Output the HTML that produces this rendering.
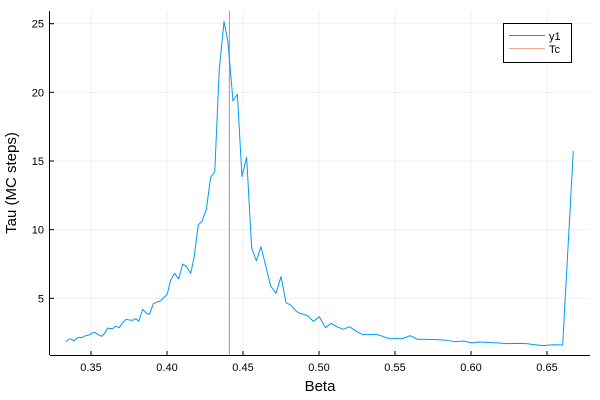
<!DOCTYPE html>
<html><head><meta charset="utf-8"><style>
html,body{margin:0;padding:0;background:#fff;}
svg{display:block;font-family:"Liberation Sans",sans-serif;}
</style></head><body>
<svg id="chart" width="600" height="400">
<g id="grid"></g>
<g id="axes"></g>
<g id="series"></g>
<text x="320" y="391" font-size="15" text-anchor="middle" fill="#000">Beta</text>
<text x="16" y="183" font-size="15" text-anchor="middle" fill="#000" transform="rotate(-90 16 183)">Tau (MC steps)</text>
<g>
<rect x="503.5" y="23.5" width="68" height="39" fill="#fff" stroke="#000" stroke-width="1"/>
<line x1="509" y1="35.5" x2="545" y2="35.5" stroke="#009af9" stroke-width="1"/>
<text x="549" y="40" font-size="11">y1</text>
<line x1="509" y1="48.5" x2="545" y2="48.5" stroke="#e26f46" stroke-opacity="0.6" stroke-width="1"/>
<text x="549" y="53" font-size="11">Tc</text>
</g>
</svg>
<script>
const betas = [0.3336,0.3355,0.3373,0.3388,0.3406,0.3423,0.3441,0.3458,0.3476,0.3493,0.3511,0.3529,0.3550,0.3570,0.3588,0.3610,0.3627,0.3645,0.3664,0.3686,0.3708,0.3730,0.3752,0.3774,0.3796,0.3814,0.3840,0.3864,0.3884,0.3910,0.3932,0.3954,0.3976,0.4002,0.4024,0.4050,0.4077,0.4103,0.4129,0.4156,0.4178,0.4206,0.4232,0.4259,0.4287,0.4314,0.4344,0.4375,0.4401,0.4434,0.4463,0.4493,0.4524,0.4557,0.4588,0.4618,0.4651,0.4682,0.4717,0.4750,0.4783,0.4814,0.4853,0.4875,0.4893,0.4928,0.4963,0.5002,0.5042,0.5081,0.5116,0.5160,0.5200,0.5243,0.5287,0.5331,0.5375,0.5414,0.5454,0.5498,0.5555,0.5599,0.5647,0.5708,0.5774,0.5840,0.5895,0.5950,0.6004,0.6055,0.6103,0.6169,0.6235,0.6300,0.6366,0.6421,0.6476,0.6542,0.6603,0.6673];
const taus = [1.82,2.04,2.01,1.89,2.08,2.16,2.13,2.25,2.30,2.35,2.50,2.50,2.33,2.23,2.42,2.84,2.79,2.81,2.98,2.86,3.22,3.47,3.42,3.40,3.52,3.32,4.20,3.91,3.83,4.59,4.73,4.78,5.02,5.31,6.33,6.82,6.41,7.50,7.30,6.82,7.98,10.34,10.65,11.48,13.81,14.20,21.68,25.15,23.69,19.37,19.86,13.86,15.27,8.64,7.74,8.76,7.30,5.89,5.36,6.58,4.68,4.51,4.03,3.90,3.86,3.71,3.32,3.66,2.86,3.18,2.93,2.74,2.93,2.62,2.35,2.35,2.38,2.25,2.08,2.08,2.08,2.28,2.01,2.01,1.99,1.94,1.84,1.89,1.75,1.82,1.79,1.75,1.70,1.72,1.70,1.62,1.55,1.62,1.60,15.73];
const tcBeta = 0.4407;
const xTicks = [0.35,0.40,0.45,0.50,0.55,0.60,0.65];
const xTickLabels = ["0.35","0.40","0.45","0.50","0.55","0.60","0.65"];
const yTicks = [5,10,15,20,25];
const yTickLabels = ["5","10","15","20","25"];

const NS="http://www.w3.org/2000/svg";
const L=50,R=590,T=11,B=355;
function xs(v){return 91+(v-0.35)*1520;}
function ys(v){return 298.3-(v-5)*13.73;}
function mk(tag,attrs,parent){const e=document.createElementNS(NS,tag);for(const k in attrs)e.setAttribute(k,attrs[k]);parent.appendChild(e);return e;}
const grid=document.getElementById('grid'),axes=document.getElementById('axes'),series=document.getElementById('series');
xTicks.forEach((t,i)=>{
  const x=xs(t);
  const g=mk('line',{x1:x,y1:T,x2:x,y2:B,stroke:'#000','stroke-opacity':0.1,'stroke-width':0.5},grid);
  
  
  const tk=mk('line',{x1:x,y1:B,x2:x,y2:B-4,stroke:'#000','stroke-width':1},axes);
  
  
  const tx=mk('text',{x:x,y:B+16,'font-size':11,'text-anchor':'middle',fill:'#000'},axes);
  tx.textContent=xTickLabels[i];
  
  
});
yTicks.forEach((t,i)=>{
  const y=ys(t);
  const g=mk('line',{x1:L,y1:y,x2:R,y2:y,stroke:'#000','stroke-opacity':0.1,'stroke-width':0.5},grid);
  
  
  const tk=mk('line',{x1:L,y1:y,x2:L+4,y2:y,stroke:'#000','stroke-width':1},axes);
  
  
  const tx=mk('text',{x:L-6,y:y+4,'font-size':11,'text-anchor':'end',fill:'#000'},axes);
  tx.textContent=yTickLabels[i];
  
  
});
const xa=mk('line',{x1:L,y1:B+0.5,x2:R,y2:B+0.5,stroke:'#000','stroke-width':1},axes);


const ya=mk('line',{x1:L-0.5,y1:T,x2:L-0.5,y2:B,stroke:'#000','stroke-width':1},axes);


const pts=betas.map((b,i)=>xs(b).toFixed(2)+','+ys(taus[i]).toFixed(2)).join(' ');
const pl=mk('polyline',{points:pts,fill:'none',stroke:'#009af9','stroke-width':1,'stroke-linejoin':'round'},series);


const tc=mk('line',{x1:xs(tcBeta)+0.5,y1:T,x2:xs(tcBeta)+0.5,y2:B,stroke:'#c0684a','stroke-opacity':0.8,'stroke-width':1},series);


</script>
</body></html>
